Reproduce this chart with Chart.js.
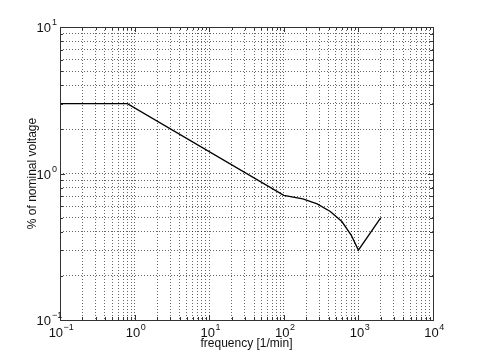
<!DOCTYPE html>
<html>
<head>
<meta charset="utf-8">
<script src="https://cdn.jsdelivr.net/npm/chart.js@4/dist/chart.umd.min.js"></script>
<style>
  html, body { margin: 0; padding: 0; background: #fff; }
  #wrap { width: 480px; height: 354px; }
</style>
</head>
<body>
<div id="wrap"><canvas id="plot" width="480" height="354"></canvas></div>
<script>
// values (log-log)
const freq    = [0.1, 0.8, 100,  180,  280,  420,  600,  800,  1000, 2000];
const voltage = [3,   3,   0.71, 0.67, 0.62, 0.55, 0.47, 0.38, 0.30, 0.50];

const xMajors = [-1, 0, 1, 2, 3, 4];   // exponents shown on x axis
const yMajors = [-1, 0, 1];            // exponents shown on y axis
const xTitle = 'frequency [1/min]';
const yTitle = '% of nominal voltage';

const FONT = '"Liberation Sans", Arial, sans-serif';

// 1..9 x 10^k ticks between two decades
function logTicks(lo, hi) {
  const out = [];
  for (let e = lo; e < hi; e++) {
    for (let m = 1; m <= 9; m++) out.push({ value: m * Math.pow(10, e) });
  }
  out.push({ value: Math.pow(10, hi) });
  return out;
}

// matlab-ish frame: solid box, inward ticks, 10^n labels, axis titles
const framePlugin = {
  id: 'frame',
  afterDraw(chart) {
    const ctx = chart.ctx;
    const a = chart.chartArea;
    const xs = chart.scales.x, ys = chart.scales.y;
    ctx.save();
    ctx.strokeStyle = '#333';
    ctx.lineWidth = 1;

    // inward ticks
    ctx.beginPath();
    xs.ticks.forEach(t => {
      const px = Math.round(xs.getPixelForValue(t.value)) + 0.5;
      const major = Math.abs(Math.log10(t.value) % 1) < 1e-9;
      const len = major ? 5 : 3;
      ctx.moveTo(px, a.bottom); ctx.lineTo(px, a.bottom - len);
      ctx.moveTo(px, a.top); ctx.lineTo(px, a.top + len);
    });
    ys.ticks.forEach(t => {
      const py = Math.round(ys.getPixelForValue(t.value)) + 0.5;
      const major = Math.abs(Math.log10(t.value) % 1) < 1e-9;
      const len = major ? 5 : 3;
      ctx.moveTo(a.left, py); ctx.lineTo(a.left + len, py);
      ctx.moveTo(a.right, py); ctx.lineTo(a.right - len, py);
    });
    ctx.stroke();

    // box
    ctx.strokeRect(Math.round(a.left) + 0.5, Math.round(a.top) + 0.5,
                   Math.round(a.right - a.left), Math.round(a.bottom - a.top));

    // tick labels as 10 with superscript exponent
    ctx.fillStyle = '#111';
    ctx.textBaseline = 'alphabetic';
    const big = '13px ' + FONT, small = '9px ' + FONT;
    xMajors.forEach(e => {
      const px = xs.getPixelForValue(Math.pow(10, e));
      const exp = String(e).replace('-', '\u2212');
      ctx.font = big; const w1 = ctx.measureText('10').width;
      ctx.font = small; const w2 = ctx.measureText(exp).width;
      const x0 = px - (w1 + w2) / 2 + 1;
      ctx.font = big; ctx.textAlign = 'left';
      ctx.fillText('10', x0, 337);
      ctx.font = small;
      ctx.fillText(exp, x0 + w1 + 0.5, 330);
    });
    yMajors.forEach(e => {
      const py = ys.getPixelForValue(Math.pow(10, e));
      const exp = String(e).replace('-', '\u2212');
      ctx.font = big; ctx.textAlign = 'right';
      ctx.fillText('10', 51, py + 5);
      ctx.font = small; ctx.textAlign = 'left';
      ctx.fillText(exp, 52, py - 2);
    });

    // axis titles
    ctx.font = '12px ' + FONT;
    ctx.textAlign = 'center';
    ctx.fillText(xTitle, (a.left + a.right) / 2, 347);
    ctx.save();
    ctx.translate(36, (a.top + a.bottom) / 2);
    ctx.rotate(-Math.PI / 2);
    ctx.fillText(yTitle, 0, 0);
    ctx.restore();
    ctx.restore();
  }
};

const gridOpts = { color: 'rgba(0,0,0,0.6)', lineWidth: 1, drawTicks: false };

new Chart(document.getElementById('plot'), {
  type: 'scatter',
  data: {
    datasets: [{
      data: freq.map((f, i) => ({ x: f, y: voltage[i] })),
      showLine: true,
      borderColor: '#000',
      borderWidth: 1.3,
      pointRadius: 0,
      tension: 0
    }]
  },
  options: {
    responsive: false,
    animation: false,
    layout: { padding: { top: 27, right: 47, left: 0, bottom: 0 } },
    plugins: { legend: { display: false }, tooltip: { enabled: false } },
    scales: {
      x: {
        type: 'logarithmic',
        min: 0.1, max: 10000,
        afterBuildTicks: s => { s.ticks = logTicks(-1, 4); },
        afterFit: s => { s.height = 34; },
        ticks: { display: false },
        grid: gridOpts,
        border: { display: false, dash: [1, 2] }
      },
      y: {
        type: 'logarithmic',
        min: 0.1, max: 10,
        afterBuildTicks: s => { s.ticks = logTicks(-1, 1); },
        afterFit: s => { s.width = 60; },
        ticks: { display: false },
        grid: gridOpts,
        border: { display: false, dash: [1, 2] }
      }
    }
  },
  plugins: [{
    id: 'bg',
    beforeDraw(c) {
      c.ctx.save(); c.ctx.fillStyle = '#fff';
      c.ctx.fillRect(0, 0, c.width, c.height); c.ctx.restore();
    }
  }, framePlugin]
});
</script>
</body>
</html>
